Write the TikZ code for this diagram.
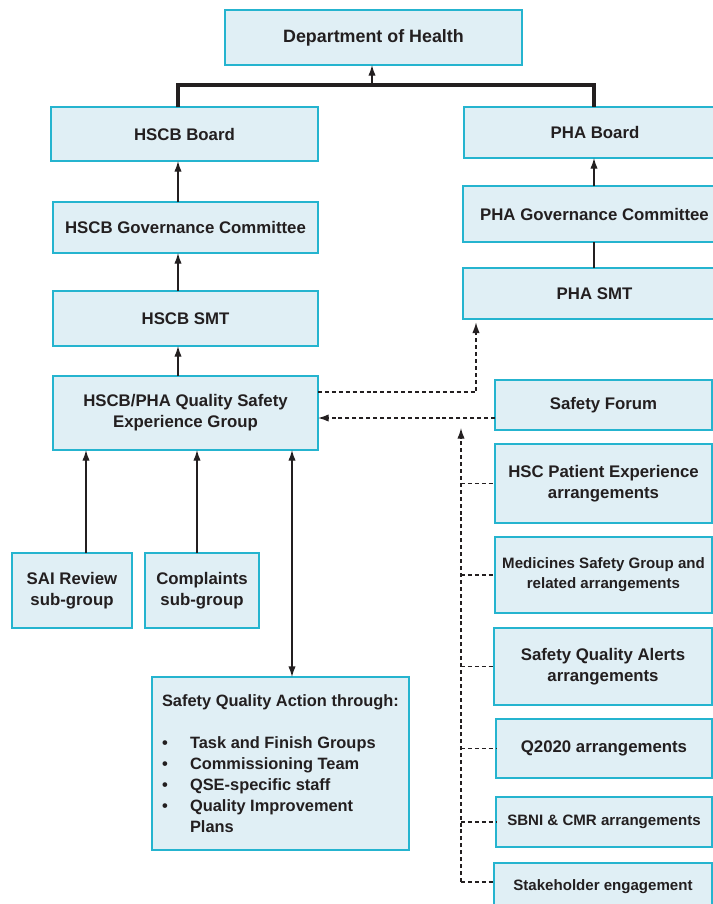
\documentclass[tikz,border=0pt]{standalone}
\usepackage{fontspec}
\setmainfont{Liberation Sans}
\usetikzlibrary{arrows.meta}
\definecolor{boxfill}{HTML}{E0EFF5}
\definecolor{boxline}{HTML}{25B4CF}
\definecolor{ink}{HTML}{231F20}
\begin{document}
\begin{tikzpicture}[x=0.75pt,y=-0.75pt,
  box/.style={draw=boxline, fill=boxfill, line width=1.5pt, inner sep=0pt, outer sep=0pt,
    align=center, text=ink, font=\bfseries\fontsize{12.6}{15.75}\selectfont},
  sz/.style 2 args={minimum width=#1*0.75pt, minimum height=#2*0.75pt},
  smalltext/.style={font=\bfseries\fontsize{11.3}{15}\selectfont},
  dohtext/.style={font=\bfseries\fontsize{13.4}{16}\selectfont},
  acttext/.style={font=\bfseries\fontsize{12.3}{15.75}\selectfont},
  tip/.tip={Latex[length=8pt,width=5.5pt]},
  arr/.style={draw=ink, line width=1pt, -tip},
  dblarr/.style={draw=ink, line width=1pt, tip-tip},
  plain/.style={draw=ink, line width=1pt},
  heavy/.style={draw=ink, line width=2.3pt},
  dashconn/.style={draw=ink, line width=1pt, dash pattern=on 3pt off 2.2pt},
  dasharr/.style={dashconn, -tip}
]
\useasboundingbox (0,0) rectangle (713,904);
\fill[white] (0,0) rectangle (713,904);
\clip (0,0) rectangle (713,904);

% boxes
\node[box, dohtext, sz={297}{55}] (doh) at (373.5,37.5) {Department of Health};
\node[box, sz={267}{54}] (hscbB) at (184.5,134) {HSCB Board};
\node[box, sz={262}{51}] (phaB) at (595,132.5) {PHA Board};
\node[box, sz={265}{51}] (hscbG) at (185.5,227.5) {HSCB Governance Committee};
\node[box, sz={263}{56}] (phaG) at (594.5,214) {PHA Governance Committee};
\node[box, sz={265}{55}] (hscbS) at (185.5,318.5) {HSCB SMT};
\node[box, sz={263}{51}] (phaS) at (594.5,293.5) {PHA SMT};
\node[box, sz={265}{74}] (qse) at (185.5,413) {HSCB/PHA Quality Safety\\Experience Group};
\node[box, sz={120}{75}] (sai) at (72,590.5) {SAI Review\\sub-group};
\node[box, sz={114}{75}] (comp) at (202,590.5) {Complaints\\sub-group};
\node[box, acttext, align=left, sz={257}{173}] (act) at (280.5,763.5) {Safety Quality Action through:\\[15.75pt]
  \makebox[21pt][l]{•}Task and Finish Groups\\
  \makebox[21pt][l]{•}Commissioning Team\\
  \makebox[21pt][l]{•}QSE-specific staff\\
  \makebox[21pt][l]{•}Quality Improvement\\
  \hspace*{21pt}Plans};
\node[box, sz={217}{50}] (sf) at (603.5,405) {Safety Forum};
\node[box, sz={217}{79}] (hsc) at (603.5,483.5) {HSC Patient Experience\\arrangements};
\node[box, smalltext, sz={217}{76}] (med) at (603.5,575) {Medicines Safety Group and\\related arrangements};
\node[box, sz={218}{77}] (sqa) at (603,666.5) {Safety Quality Alerts\\arrangements};
\node[box, sz={216}{59}] (q20) at (604,748.5) {Q2020 arrangements};
\node[box, smalltext, sz={216}{50}] (sbni) at (604,822) {SBNI \& CMR arrangements};
\node[box, smalltext, sz={218}{48}] (stake) at (603,887) {Stakeholder engagement};

% helper coordinates
\coordinate (colL) at (178,0);
\coordinate (colR) at (594,0);
\coordinate (j) at (372,85);
\coordinate (d1) at (476,392);
\coordinate (d2) at (0,418);
\coordinate (vt) at (461,428);
\coordinate (vb) at (461,882);
\coordinate (cSai) at (86,0);
\coordinate (cComp) at (197,0);
\coordinate (cAct) at (292,0);

% top structure
\draw[heavy] (hscbB.north -| colL) |- (j) -| (phaB.north -| colR);
\draw[arr] (j) -- (doh.south -| j);
\draw[arr] (hscbG.north -| colL) -- (hscbB.south -| colL);
\draw[arr] (hscbS.north -| colL) -- (hscbG.south -| colL);
\draw[arr] (qse.north -| colL) -- (hscbS.south -| colL);
\draw[arr] (phaG.north -| colR) -- (phaB.south -| colR);
\draw[plain] (phaS.north -| colR) -- (phaG.south -| colR);

% dashed links
\draw[dasharr, shorten >=2.5pt] (qse.east |- d1) -| (phaS.south -| d1);
\draw[dasharr] (sf.west |- d2) -- (qse.east |- d2);
\draw[dasharr] (vb) -- (vt);
\draw[dashconn] (vt |- hsc.west) -- (hsc.west);
\draw[dashconn] (vt |- med.west) -- (med.west);
\draw[dashconn] (vt |- sqa.west) -- (sqa.west);
\draw[dashconn] (vt |- q20.west) -- (q20.west);
\draw[dashconn] (vt |- sbni.west) -- (sbni.west);
\draw[dashconn] (vb) -- (stake.west |- vb);

% sub-groups
\draw[arr] (sai.north -| cSai) -- (qse.south -| cSai);
\draw[arr] (comp.north -| cComp) -- (qse.south -| cComp);
\draw[dblarr] (act.north -| cAct) -- (qse.south -| cAct);
\end{tikzpicture}
\end{document}
